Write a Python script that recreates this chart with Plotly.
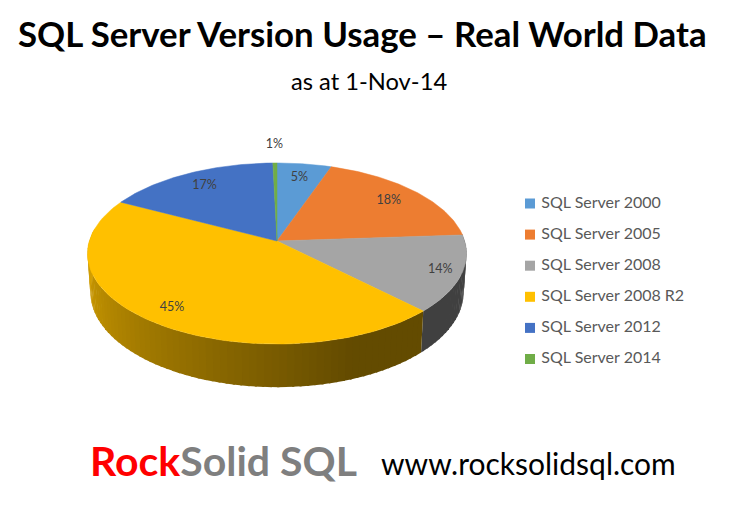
import numpy as np
import plotly.graph_objects as go

# values, printed labels kept separately because the chart rounds them
categories = ['SQL Server 2000', 'SQL Server 2005', 'SQL Server 2008',
              'SQL Server 2008 R2', 'SQL Server 2012', 'SQL Server 2014']
shares = [5.3, 18.6, 13.7, 45.1, 16.9, 0.4]
share_labels = ['5%', '18%', '14%', '45%', '17%', '1%']
colors = ['#5B9BD5', '#ED7D31', '#A5A5A5', '#FFC000', '#4472C4', '#70AD47']

FONT = 'Lato'
CX, CY = 277, 241  # pie centre in picture pixels
RX, RY = 187.7, 88.8
PERSPECTIVE = 0.138
DEPTH = 38
BOTTOM_X, BOTTOM_Y = 0.985, 1.05
LABEL_RADIUS = [0.8, 0.8, 0.89, 0.85, 0.8, 1.27]


def project(theta, radius=1.0, bottom=False):
    """Tilted circle to pixels. theta is in degrees clockwise from the top."""
    t = np.radians(theta)
    x = radius * np.sin(t)
    y = radius * np.cos(t)
    w = 1 + PERSPECTIVE * y
    if bottom:
        return CX + BOTTOM_X * RX * x / w, CY + DEPTH - BOTTOM_Y * RY * y / w
    return CX + RX * x / w, CY - RY * y / w


def shade(color, factor):
    r, g, b = [int(color[i:i + 2], 16) for i in (1, 3, 5)]
    return f'rgb({r * factor:.0f},{g * factor:.0f},{b * factor:.0f})'


def wall_factor(theta):
    return float(np.clip(0.39 + 0.47 * (theta - 160) / 115, 0.39, 0.86))


def polygon(fig, xs, ys, color, line_width=0.5):
    fig.add_trace(go.Scatter(
        x=xs, y=ys, mode='lines', fill='toself', fillcolor=color,
        line=dict(color=color, width=line_width), hoverinfo='skip', showlegend=False
    ))


edges = np.cumsum([0] + shares) * 360 / sum(shares)

fig = go.Figure()

# side wall first, the top surface then covers whatever sticks out behind it
for i, color in enumerate(colors):
    start, end = max(edges[i], 85), min(edges[i + 1], 278)
    if start >= end:
        continue
    steps = np.arange(start, end, 2)
    for a in steps:
        # run each strip slightly past the next one so no seams show
        b = min(a + 2.6, end)
        arc = np.linspace(a, b, 4)
        tx, ty = project(arc)
        bx, by = project(arc[::-1], bottom=True)
        polygon(fig, list(tx) + list(bx), list(ty) + list(by),
                shade(color, wall_factor(a + 1)), line_width=0)

# top surface
for i, color in enumerate(colors):
    arc = np.linspace(edges[i], edges[i + 1], 80)
    ax, ay = project(arc)
    polygon(fig, [CX] + list(ax) + [CX], [CY] + list(ay) + [CY], color)

# data labels
for i, label in enumerate(share_labels):
    lx, ly = project((edges[i] + edges[i + 1]) / 2, LABEL_RADIUS[i])
    fig.add_trace(go.Scatter(
        x=[lx], y=[ly], mode='text', text=[label], hoverinfo='skip', showlegend=False,
        textfont=dict(family=FONT, size=12.5, color='#404040')
    ))

# legend drawn by hand, plotly's own keeps too wide a gap after the swatch
for i, name in enumerate(categories):
    fig.add_trace(go.Scatter(
        x=[530], y=[203.5 + 31.1 * i], mode='markers+text', text=['\u00a0' + name],
        textposition='middle right', hoverinfo='skip', showlegend=False,
        marker=dict(symbol='square', size=10, color=colors[i]),
        textfont=dict(family=FONT, size=16, color='#595959')
    ))

annotations = [
    dict(x=362, y=33, text='<b>SQL Server Version Usage – Real World Data</b>',
         font=dict(size=34.8, color='black')),
    dict(x=368.5, y=81, text='as at 1-Nov-14', font=dict(size=23.7, color='black')),
    dict(x=223, y=460,
         text='<b><span style="color:#FF0000">Rock</span>'
              '<span style="color:#7F7F7F">Solid SQL</span></b>',
         font=dict(size=41)),
    dict(x=528, y=463, text='www.rocksolidsql.com', font=dict(size=30, color='black')),
]
for a in annotations:
    a.update(xref='x', yref='y', showarrow=False, xanchor='center', yanchor='middle')
    a['font']['family'] = FONT

fig.update_layout(
    width=737, height=523,
    margin=dict(l=0, r=0, t=0, b=0),
    plot_bgcolor='white',
    paper_bgcolor='white',
    showlegend=False,
    annotations=annotations
)
fig.update_xaxes(range=[0, 737], visible=False)
fig.update_yaxes(range=[523, 0], visible=False)

# the page body has a default 8px margin that would push the figure off
fig.write_html("out.html", config={'displayModeBar': False},
               post_script="document.body.style.margin = '0';")
